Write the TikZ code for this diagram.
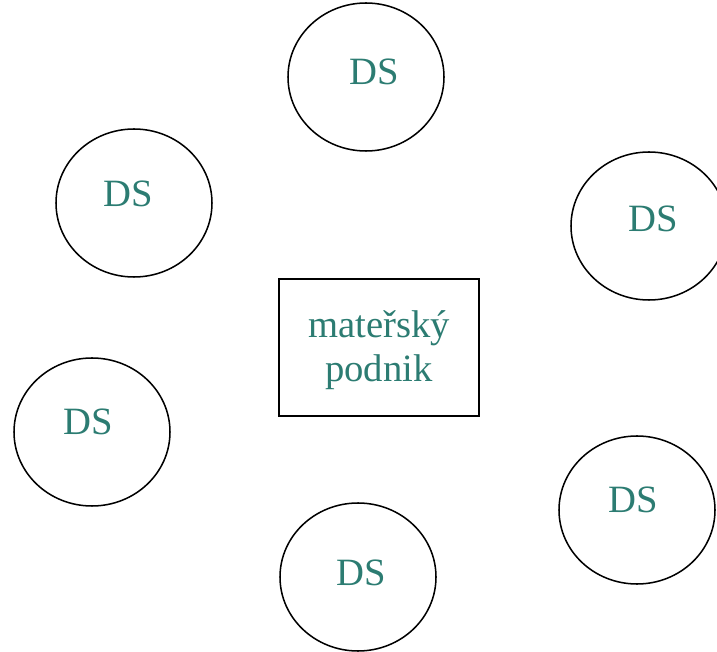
\documentclass[tikz,border=0pt]{standalone}
\usepackage{fontspec}
\setmainfont{Liberation Serif}
\usetikzlibrary{shapes.geometric}

\begin{document}
\begin{tikzpicture}[
  x=0.03cm, y=-0.03cm,
  % --- node styles ---
  ds/.style={ellipse, draw=black, line width=1.3pt,
             minimum width=156*0.03cm, minimum height=148*0.03cm, inner sep=0pt},
  parent/.style={rectangle, draw=black, line width=1.6pt,
                 minimum width=200*0.03cm, minimum height=137*0.03cm, inner sep=0pt},
  lbl/.style={text=dsTeal, font=\fontsize{33}{37}\selectfont, inner sep=0pt},
]
  \definecolor{dsTeal}{RGB}{44,124,114}

  % --- page frame ---
  \useasboundingbox (0,0) rectangle (717,652);
  \clip (0,0) rectangle (717,652);

  % --- subsidiaries (ellipses) ---
  \node[ds] (dsTop)  at (366,77)  {};
  \node[ds] (dsLU)   at (134,203) {};
  \node[ds] (dsRU)   at (649,226) {};
  \node[ds] (dsLL)   at (92,432)  {};
  \node[ds] (dsRL)   at (637,510) {};
  \node[ds] (dsBot)  at (358,577) {};

  % --- labels ---
  \node[lbl] (tTop) at (374,72)  {DS};
  \node[lbl] (tLU)  at (128,194) {DS};
  \node[lbl] (tRU)  at (653,219) {DS};
  \node[lbl] (tLL)  at (88,422)  {DS};
  \node[lbl] (tRL)  at (633,500) {DS};
  \node[lbl] (tBot) at (361,573) {DS};

  % --- parent company ---
  \node[parent] (parent) at (379,347.5) {};
  \node[lbl, align=center] (tParent) at (379,350) {mateřský\\podnik};
\end{tikzpicture}
\end{document}
